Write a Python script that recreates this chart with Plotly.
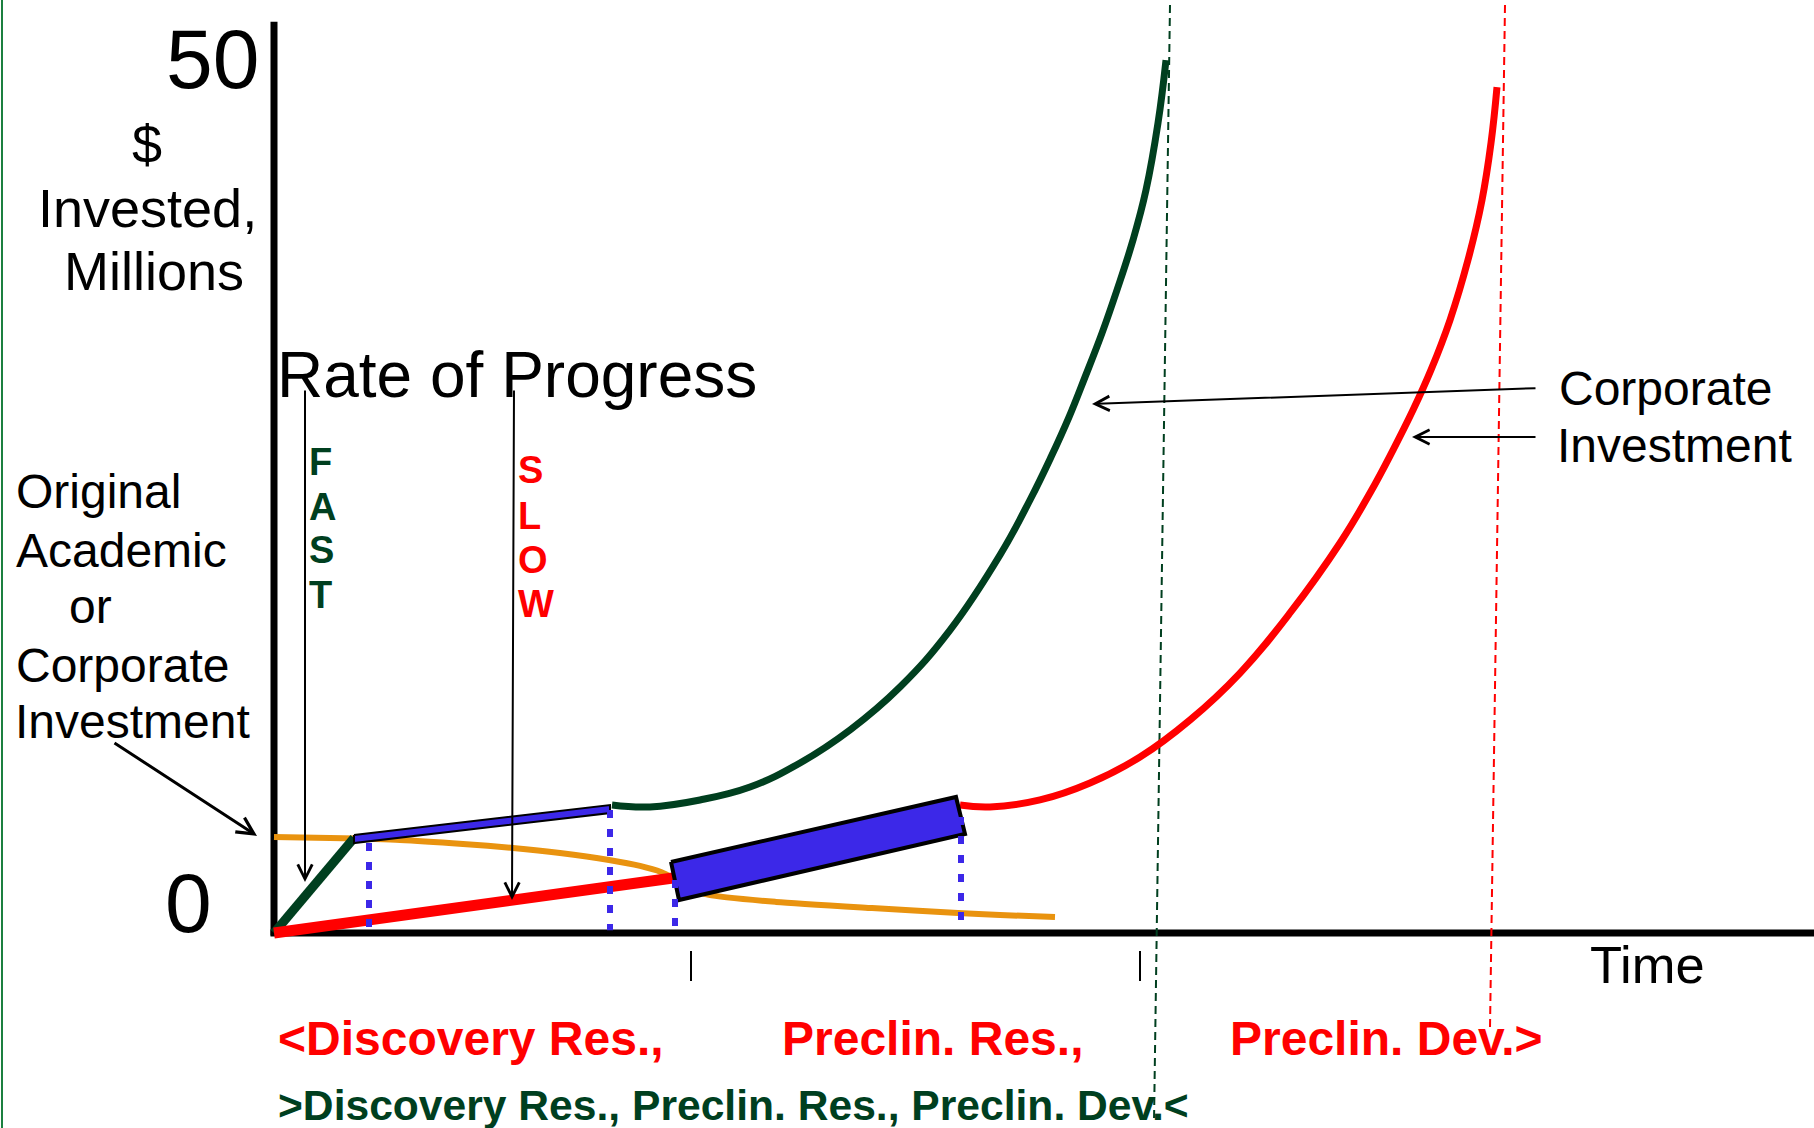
import plotly.graph_objects as go

W, H = 1814, 1128
SANS = "Liberation Sans, Arial, sans-serif"

DARK_GREEN = "#003f1f"
RED = "#ff0000"
BLUE = "#3c28e8"
ORANGE = "#e9930f"

# Time in arbitrary units, money in $ millions
T_RANGE = [-2.74, 15.40]
Y_RANGE = [-11.17, 53.44]
Y_AXIS_TOP = 52.2

# Early research: fast and slow rate of progress
fast_t = [0.0, 0.80]
fast_y = [0.0, 5.44]
slow_t = [0.0, 3.99]
slow_y = [0.0, 3.15]

# Original academic or corporate investment, tapering off
orig_t = [0.00, 0.56, 1.26, 1.89, 2.39, 2.86, 3.35, 3.66, 3.87, 3.99, 4.16,
          4.35, 5.02, 5.98, 6.84, 7.26, 7.81]
orig_y = [5.50, 5.44, 5.33, 5.10, 4.87, 4.58, 4.18, 3.84, 3.49, 3.15, 2.58,
          2.18, 1.78, 1.43, 1.15, 1.03, 0.92]

# Corporate investment once each programme is handed over
corp_fast_t = [3.38, 3.76, 4.26, 4.76, 5.26, 5.76, 6.26, 6.76, 7.26, 7.56,
               7.77, 7.95, 8.11, 8.28, 8.43, 8.59, 8.72, 8.84, 8.92]
corp_fast_y = [7.33, 7.22, 7.62, 8.36, 9.74, 11.63, 14.09, 17.35, 21.65, 24.80,
               27.26, 29.55, 31.84, 34.36, 36.83, 39.69, 42.55, 46.39, 50.00]
corp_slow_t = [6.86, 7.16, 7.66, 8.16, 8.66, 9.16, 9.66, 10.16, 10.66, 10.96,
               11.19, 11.39, 11.57, 11.76, 11.94, 12.08, 12.17, 12.23]
corp_slow_y = [7.33, 7.22, 7.62, 8.59, 10.08, 12.20, 14.89, 18.33, 22.34, 25.20,
               27.66, 29.95, 32.25, 35.11, 38.55, 41.98, 45.25, 48.45]

# Rate-of-progress bars (corner points)
bar_fast_t = [0.80, 3.36, 3.36, 0.80]
bar_fast_y = [5.61, 7.33, 6.87, 5.15]
bar_slow_t = [3.97, 6.82, 6.91, 4.05]
bar_slow_y = [4.07, 7.79, 5.67, 1.89]

# Drop lines from the bar ends to the time axis
drop_t = [0.95, 3.36, 4.01, 6.87]
drop_top = [5.15, 7.04, 3.04, 6.64]

# Phase boundaries on the time axis
phase_ticks = [4.17, 8.66]
tick_y = [-1.03, -2.75]
end_fast_t = [8.96, 8.80]
end_fast_y = [53.15, -10.82]
end_slow_t = [12.31, 12.16]
end_slow_y = [53.15, -5.44]

# Pointer arrows: (tail t, tail y, tip t, tip y, width)
pointers = [
    (-1.61, 10.94, -0.17, 5.56, 3),
    (0.31, 31.16, 0.31, 2.92, 2),
    (2.40, 31.16, 2.38, 1.89, 2),
    (12.63, 31.21, 8.18, 30.30, 2),
    (12.63, 28.41, 11.38, 28.41, 2),
]


def segments(ts, y0s, y1s):
    xs, ys = [], []
    for t, a, b in zip(ts, y0s, y1s):
        xs += [t, t, None]
        ys += [a, b, None]
    return xs, ys


fig = go.Figure()


def line(x, y, color, width, dash="solid", shape="linear", smoothing=1.0):
    fig.add_trace(go.Scatter(
        x=x, y=y, mode="lines", hoverinfo="skip",
        line=dict(color=color, width=width, dash=dash, shape=shape,
                  smoothing=smoothing),
    ))


def bar(ts, ys, border):
    fig.add_trace(go.Scatter(
        x=ts + ts[:1], y=ys + ys[:1], mode="lines", fill="toself",
        fillcolor=BLUE, hoverinfo="skip",
        line=dict(color="black", width=border),
    ))


# axes
line([0, 0], [-0.15, Y_AXIS_TOP], "black", 7)
line([-0.035, T_RANGE[1]], [0, 0], "black", 7)
tx, ty = segments(phase_ticks, [tick_y[0]] * 2, [tick_y[1]] * 2)
line(tx, ty, "black", 2)

# phase end markers
line(end_fast_t, end_fast_y, DARK_GREEN, 2, dash="8px,5px")
line(end_slow_t, end_slow_y, RED, 2, dash="8px,5px")

# curves
line(orig_t, orig_y, ORANGE, 6, shape="spline", smoothing=0.6)
line(fast_t, fast_y, DARK_GREEN, 9)
line(slow_t, slow_y, RED, 11)
line(corp_fast_t, corp_fast_y, DARK_GREEN, 7, shape="spline", smoothing=1.2)
line(corp_slow_t, corp_slow_y, RED, 7, shape="spline", smoothing=1.2)

bar(bar_fast_t, bar_fast_y, 2)
bar(bar_slow_t, bar_slow_y, 4)

dx, dy = segments(drop_t, drop_top, [0.15] * len(drop_t))
line(dx, dy, BLUE, 6, dash="8px,11px")


def text_at(text, x, base, size, anchor="left", color="black", bold=False):
    return dict(
        text=f"<b>{text}</b>" if bold else text,
        x=x / W, y=1 - (base - 0.3465 * size) / H,
        xref="paper", yref="paper", xanchor=anchor, yanchor="middle",
        showarrow=False, borderpad=0,
        font=dict(family=SANS, size=size, color=color),
    )


annotations = [
    text_at("50", 260, 88, 84, anchor="right"),
    text_at("0", 188, 932, 84, anchor="center"),
    text_at("$", 147, 163, 54, anchor="center"),
    text_at("Invested,", 147, 227, 54, anchor="center"),
    text_at("Millions", 154, 290, 54, anchor="center"),
    text_at("Rate of Progress", 276, 397, 64),
    text_at("Original", 15, 508, 48),
    text_at("Academic", 15, 567, 48),
    text_at("or", 68, 623, 48),
    text_at("Corporate", 15, 682, 48),
    text_at("Investment", 14, 738, 48),
    text_at("Corporate", 1558, 405, 48),
    text_at("Investment", 1556, 462, 48),
    text_at("Time", 1589, 983, 52.5),
    text_at("&lt;Discovery Res.,", 277, 1055, 48, color=RED, bold=True),
    text_at("Preclin. Res.,", 781, 1055, 48, color=RED, bold=True),
    text_at("Preclin. Dev.&gt;", 1229, 1055, 48, color=RED, bold=True),
    text_at("&gt;Discovery Res., Preclin. Res., Preclin. Dev.&lt;", 277, 1120, 42.6,
            color=DARK_GREEN, bold=True),
]

for ch, base in zip("FAST", [475, 520, 563, 608]):
    annotations.append(text_at(ch, 308, base, 38, color=DARK_GREEN, bold=True))
for ch, base in zip("SLOW", [483, 529, 573, 617]):
    annotations.append(text_at(ch, 517, base, 38, color=RED, bold=True))

for t0, y0, t1, y1, w in pointers:
    annotations.append(dict(
        x=t1, y=y1, ax=t0, ay=y0, xref="x", yref="y", axref="x", ayref="y",
        text="", showarrow=True, arrowhead=5, arrowwidth=w,
        arrowsize=1.42 if w == 2 else 1.1, arrowcolor="black",
        standoff=0, startstandoff=0,
    ))

fig.update_layout(
    width=W, height=H, autosize=False,
    margin=dict(l=0, r=0, t=0, b=0, pad=0),
    paper_bgcolor="white", plot_bgcolor="white",
    showlegend=False,
    xaxis=dict(range=T_RANGE, visible=False, fixedrange=True),
    yaxis=dict(range=Y_RANGE, visible=False, fixedrange=True),
    annotations=annotations,
    shapes=[dict(type="line", xref="paper", yref="paper", x0=0.0011, x1=0.0011,
                 y0=0, y1=1, line=dict(color="#1b7f3f", width=2))],
)

fig.write_html("out.html")
